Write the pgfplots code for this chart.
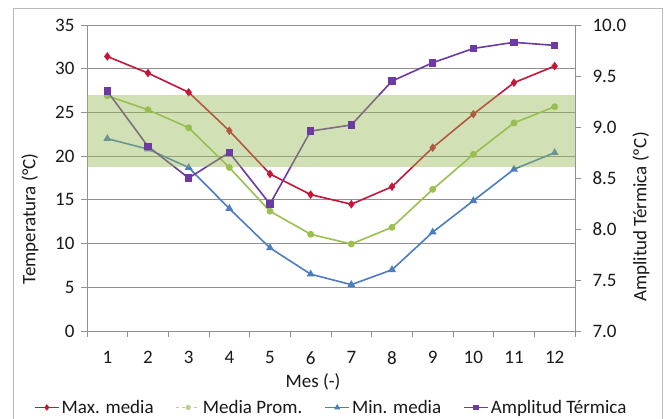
\documentclass[border=0pt]{standalone}
\usepackage{fontspec}
\setmainfont{Carlito}
\usepackage{pgfplots}
\pgfplotsset{compat=1.18}
\definecolor{cred}{RGB}{196,22,56}
\definecolor{cgreen}{RGB}{155,192,80}
\definecolor{cblue}{RGB}{74,126,193}
\definecolor{cpurple}{RGB}{108,58,160}
\definecolor{cband}{RGB}{150,185,80}
\definecolor{cgrid}{RGB}{145,145,145}
\definecolor{ctext}{RGB}{25,25,25}

\pgfplotstableread{
m maxm prom minm
1 31.4 26.9 22.0
2 29.5 25.3 20.8
3 27.3 23.25 18.7
4 22.9 18.7 14.0
5 17.96 13.7 9.5
6 15.6 11.06 6.5
7 14.5 9.95 5.3
8 16.5 11.86 7.0
9 20.97 16.2 11.3
10 24.8 20.2 14.9
11 28.4 23.8 18.5
12 30.3 25.65 20.4
}\temps

\pgfplotstableread{
m amp
1 9.35
2 8.81
3 8.50
4 8.75
5 8.245
6 8.96
7 9.02
8 9.45
9 9.63
10 9.77
11 9.83
12 9.80
}\ampl

\begin{document}
\begin{tikzpicture}[x=1pt,y=1pt]
\useasboundingbox (0,0) rectangle (672,419);
\fill[white] (0,0) rectangle (672,419);
\draw[gray!55, line width=1pt] (13,-20) rectangle (662,410);

\pgfplotsset{
  common/.style={
    at={(87pt,88pt)}, anchor=south west, scale only axis,
    width=488pt, height=306pt,
    xmin=0.5, xmax=12.5,
    tick align=outside,
    every tick/.style={cgrid, line width=0.8pt},
    tick label style={font=\fontsize{19}{21}\selectfont, text=ctext},
    /pgf/number format/assume math mode=true,
  }
}

\begin{axis}[common,
  ymin=0, ymax=35, ytick={0,5,...,35},
  xtick={1,...,12},
  minor xtick={0.5,1.5,...,12.5},
  major x tick style={draw=none},
  minor tick length=6pt,
  major tick length=6pt,
  ymajorgrids, grid style={cgrid, line width=0.8pt},
  axis x line*=bottom, axis y line*=left,
  axis line style={cgrid, line width=0.8pt},
  xticklabel style={yshift=-11pt},
  yticklabel style={xshift=-3pt},
]
\addplot[cred, line width=1.6pt, mark=diamond*, mark size=3pt] table[x=m,y=maxm]{\temps};
\addplot[cgreen, line width=1.6pt, mark=*, mark size=2.6pt] table[x=m,y=prom]{\temps};
\addplot[cblue, line width=1.6pt, mark=triangle*, mark size=3pt] table[x=m,y=minm]{\temps};
\end{axis}

\begin{axis}[common,
  ymin=7, ymax=10, ytick={7,7.5,...,10},
  yticklabel={\pgfmathprintnumber[fixed,fixed zerofill,precision=1]{\tick}},
  xtick=\empty,
  axis x line=none, axis y line*=right,
  axis line style={cgrid, line width=0.8pt},
  major tick length=6pt,
  yticklabel style={xshift=8pt},
  legend columns=4,
  legend style={draw=none, fill=none, at={(-0.115,-0.25)}, anchor=west,
    font=\fontsize{19}{21}\selectfont, text=ctext,
    /tikz/every even column/.append style={column sep=20pt}},
  legend cell align=left,
  legend image code/.code={\draw[mark repeat=2,mark phase=2] plot coordinates {(0pt,0pt) (12pt,0pt) (24pt,0pt)};},
  legend image post style={mark size=2pt},
]
\addlegendimage{cred, line width=1.6pt, mark=diamond*}
\addlegendentry{Max. media}
\addlegendimage{cgreen!70, line width=1.2pt, dashed, mark=*, mark options={solid}}
\addlegendentry{Media Prom.}
\addlegendimage{cblue, line width=1.6pt, mark=triangle*}
\addlegendentry{Min. media}
\addplot[cpurple, line width=1.6pt, mark=square*, mark size=3pt] table[x=m,y=amp]{\ampl};
\addlegendentry{Amplitud Térmica}
\fill[cband, opacity=0.42] (axis cs:0.5,{7+18.8*3/35}) rectangle (axis cs:12.5,{7+27*3/35});
\end{axis}

\node[font=\fontsize{19}{21}\selectfont, text=ctext] at (313,37) {Mes (-)};
\node[font=\fontsize{19}{21}\selectfont, text=ctext, rotate=90] at (30,200) {Temperatura (°C)};
\node[font=\fontsize{19}{21}\selectfont, text=ctext, rotate=90] at (641,202) {Amplitud Térmica (ºC)};
\end{tikzpicture}
\end{document}
